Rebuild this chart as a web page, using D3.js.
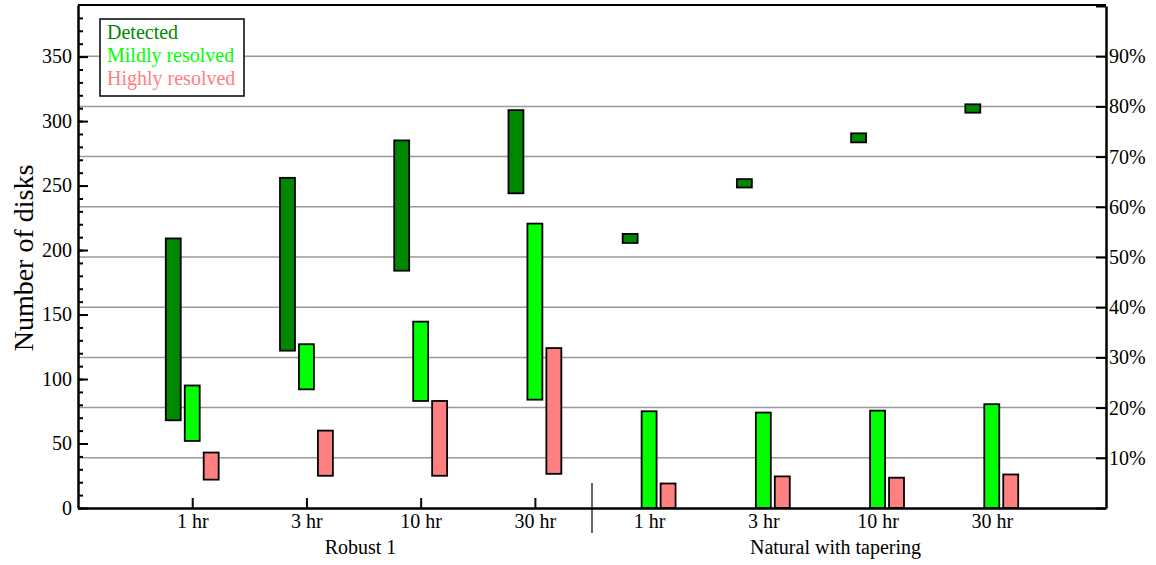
<!DOCTYPE html>
<html>
<head>
<meta charset="utf-8">
<script src="https://cdn.jsdelivr.net/npm/d3@7"></script>
<style>
  body { margin: 0; background: #fff; }
  svg { display: block; font-family: "Liberation Serif", "Times New Roman", serif; }
</style>
</head>
<body>
<svg width="1156" height="565"></svg>
<script>
// categories
var groups = ["Robust 1", "Natural with tapering"];
var times = ["1 hr", "3 hr", "10 hr", "30 hr"];
var seriesNames = ["Detected", "Mildly resolved", "Highly resolved"];
var seriesColors = ["#008800", "#00ff00", "#ff8080"];

// ranges (low, high) per slot: robust 1,3,10,30 hr then natural 1,3,10,30 hr
var detectedLow  = [68, 122, 184, 244, 205.5, 248.5, 283.5, 306.5];
var detectedHigh = [209, 256, 285, 308.5, 212.5, 255, 290.5, 313];
var mildLow      = [52, 92, 83, 84, 0, 0, 0, 0];
var mildHigh     = [95, 127, 144.5, 220.5, 75, 74, 75.5, 80.5];
var highLow      = [22, 25, 25, 26.5, 0, 0, 0, 0];
var highHigh     = [43, 60, 83, 124, 19, 24.5, 23.5, 26];

// axis ticks
var leftTicks = [0, 50, 100, 150, 200, 250, 300, 350];
var pctTicks = [0, 10, 20, 30, 40, 50, 60, 70, 80, 90, 100];

var svg = d3.select("svg");
// note: "top" is a window global, so use other names
var plotL = 78, plotR = 1106, plotT = 5, plotB = 508;

//slots: 0 = left edge, 1..4 robust, 4.5 divider, 5..8 natural, 9 = right edge
var x = d3.scaleLinear().domain([0, 9]).range([plotL, plotR]);
var y = d3.scaleLinear().domain([0, 390]).range([plotB, plotT]);
var yPct = d3.scaleLinear().domain([0, 100]).range([plotB, plotT + 1]);

// gridlines at the percent ticks
svg.append("g").selectAll("line")
  .data(pctTicks.filter(function(d){ return d > 0 && d < 100; }))
  .enter().append("line")
  .attr("x1", plotL).attr("x2", plotR)
  .attr("y1", function(d){ return yPct(d); })
  .attr("y2", function(d){ return yPct(d); })
  .attr("stroke", "#999").attr("stroke-width", 1.5);

// bars
var slots = [1, 2, 3, 4, 5, 6, 7, 8];
var lows = [detectedLow, mildLow, highLow];
var highs = [detectedHigh, mildHigh, highHigh];
var offsets = [-0.166, 0, 0.166];
var barW = 0.131;

seriesNames.forEach(function(name, s){
  var data = slots.map(function(slot, i){
    return {slot: slot, lo: lows[s][i], hi: highs[s][i]};
  });
  svg.append("g").selectAll("rect")
    .data(data)
    .enter().append("rect")
    .attr("x", function(d){ return x(d.slot + offsets[s] - barW / 2); })
    .attr("width", function(){ return x(barW) - x(0); })
    .attr("y", function(d){ return y(d.hi); })
    .attr("height", function(d){ return y(d.lo) - y(d.hi); })
    .attr("fill", seriesColors[s])
    .attr("stroke", "#000")
    .attr("stroke-width", 1.8);
});

// left axis, major + minor ticks inward
svg.append("g")
  .attr("transform", "translate(" + plotL + ",0)")
  .call(d3.axisLeft(y).tickValues(leftTicks).tickSizeInner(-10).tickSizeOuter(0).tickPadding(6));
svg.append("g")
  .attr("transform", "translate(" + plotL + ",0)")
  .call(d3.axisLeft(y).tickValues(d3.range(0, 390, 10)).tickSizeInner(-5).tickSizeOuter(0).tickFormat(""))
  .select(".domain").remove();

// right axis
svg.append("g")
  .attr("transform", "translate(" + plotR + ",0)")
  .call(d3.axisRight(yPct).tickValues(pctTicks).tickSizeInner(-10).tickSizeOuter(0).tickPadding(3)
    .tickFormat(function(d){ return (d > 0 && d < 100) ? d + "%" : ""; }));

// bottom axis: ticks only for robust group
svg.append("g")
  .attr("transform", "translate(0," + plotB + ")")
  .call(d3.axisBottom(x).tickValues([1, 2, 3, 4]).tickSizeInner(-10).tickSizeOuter(0).tickPadding(6)
    .tickFormat(function(d){ return times[d - 1]; }));
svg.append("g")
  .attr("transform", "translate(0," + plotB + ")")
  .call(d3.axisBottom(x).tickValues([5, 6, 7, 8]).tickSize(0).tickPadding(6)
    .tickFormat(function(d){ return times[d - 5]; }))
  .select(".domain").remove();

svg.selectAll(".tick text").attr("font-size", 20).attr("font-family", "Liberation Serif").attr("fill", "#000");
svg.selectAll(".tick line").attr("stroke", "#000").attr("stroke-width", 2);
svg.selectAll(".domain").attr("stroke", "#000").attr("stroke-width", 2.5);

// top border
svg.append("line")
  .attr("x1", plotL).attr("x2", plotR).attr("y1", plotT).attr("y2", plotT)
  .attr("stroke", "#000").attr("stroke-width", 2);

// divider between groups
svg.append("line")
  .attr("x1", x(4.5)).attr("x2", x(4.5)).attr("y1", 483).attr("y2", 533)
  .attr("stroke", "#000").attr("stroke-width", 1.2);

// group labels
svg.append("text").attr("x", 360.5).attr("y", 554).attr("text-anchor", "middle")
  .attr("font-size", 20).text(groups[0]);
svg.append("text").attr("x", 835.5).attr("y", 554).attr("text-anchor", "middle")
  .attr("font-size", 20).text(groups[1]);

// y title
svg.append("text")
  .attr("transform", "translate(33,258) rotate(-90)")
  .attr("text-anchor", "middle")
  .attr("font-size", 28)
  .text("Number of disks");

// legend
svg.append("rect")
  .attr("x", 100).attr("y", 19).attr("width", 144).attr("height", 77)
  .attr("fill", "#fff").attr("stroke", "#000").attr("stroke-width", 1.5);
svg.append("g").selectAll("text")
  .data(seriesNames)
  .enter().append("text")
  .attr("x", 107)
  .attr("y", function(d, i){ return 39 + i * 23; })
  .attr("font-size", 20)
  .attr("fill", function(d, i){ return seriesColors[i]; })
  .text(function(d){ return d; });
</script>
</body>
</html>
